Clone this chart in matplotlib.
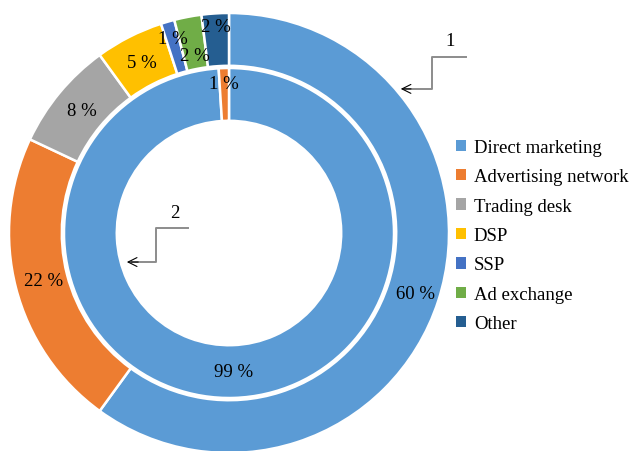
import numpy as np
import matplotlib
matplotlib.use("Agg")
from matplotlib import pyplot as plt
from matplotlib.patches import Patch

plt.rcParams['font.family'] = ['Liberation Serif', 'DejaVu Serif']

# data
categories = ["Direct marketing", "Advertising network", "Trading desk",
              "DSP", "SSP", "Ad exchange", "Other"]
outer_vals = [60, 22, 8, 5, 1, 2, 2]
inner_vals = [99, 1]
colors = ["#5B9BD5", "#ED7D31", "#A5A5A5", "#FFC000", "#4472C4", "#70AD47", "#255E91"]

# label radius per slice (Excel puts the tiny ones a bit off)
outer_lab_r = [0.89, 0.87, 0.87, 0.87, 0.92, 0.82, 0.94]
inner_lab_r = [0.63, 0.68]

fig = plt.figure(figsize=(6.3, 4.52), dpi=100)
ax = fig.add_axes([0, 0, 1, 1])

wp = dict(width=0.24, edgecolor="white", linewidth=1.8)
w1, _ = ax.pie(outer_vals, colors=colors, radius=1.0, startangle=90,
               counterclock=False, wedgeprops=wp)
w2, _ = ax.pie(inner_vals, colors=colors[:2], radius=0.75, startangle=90,
               counterclock=False, wedgeprops=wp)

def put_labels(wedges, vals, radii):
    for w, v, r in zip(wedges, vals, radii):
        a = np.deg2rad((w.theta1 + w.theta2) / 2)
        ax.text(r * np.cos(a), r * np.sin(a), "%d %%" % v, ha="center",
                va="center", fontsize=13.5)

put_labels(w1, outer_vals, outer_lab_r)
put_labels(w2, inner_vals, inner_lab_r)

# callouts "1" (outer ring) and "2" (inner ring)
lc = "#8c8c8c"
ax.plot([1.077, 0.923, 0.923, 0.80], [0.80, 0.80, 0.655, 0.655], color=lc, lw=1.4)
ax.annotate("", xy=(0.768, 0.655), xytext=(0.84, 0.655),
            arrowprops=dict(arrowstyle="->", color="black", lw=0.8,
                            mutation_scale=16))
ax.text(1.005, 0.873, "1", ha="center", va="center", fontsize=13.5)

ax.plot([-0.186, -0.332, -0.332, -0.44], [0.023, 0.023, -0.132, -0.132], color=lc, lw=1.4)
ax.annotate("", xy=(-0.477, -0.132), xytext=(-0.40, -0.132),
            arrowprops=dict(arrowstyle="->", color="black", lw=0.8,
                            mutation_scale=16))
ax.text(-0.245, 0.095, "2", ha="center", va="center", fontsize=13.5)

handles = [Patch(facecolor=c, edgecolor="none") for c in colors]
ax.legend(handles, categories, loc="upper left",
          bbox_to_anchor=(456 / 630, 1 - 140 / 452), bbox_transform=fig.transFigure,
          frameon=False, fontsize=13.5, handlelength=0.55, handleheight=0.55,
          handletextpad=0.4, labelspacing=0.66, borderpad=0, borderaxespad=0)

ax.set_xlim(-229 / 220, (630 - 229) / 220)
ax.set_ylim((234 - 452) / 220, 234 / 220)
ax.set_aspect("equal")
ax.axis("off")

fig.savefig("out.png", dpi=100)
